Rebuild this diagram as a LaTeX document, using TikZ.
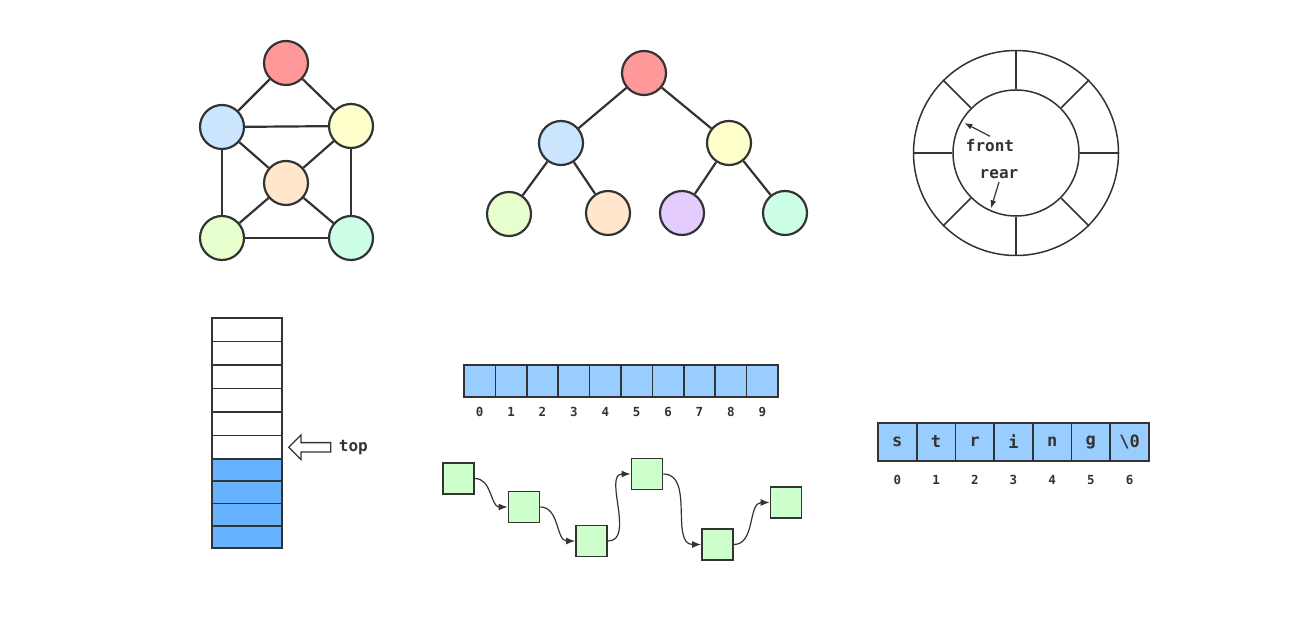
\documentclass[tikz,border=0pt]{standalone}
\usepackage{fontspec}
\setmonofont{DejaVu Sans Mono}
\usepackage{tikz}
\usetikzlibrary {shapes.arrows, arrows.meta}

\definecolor{ink}{HTML}{333333}
\definecolor{nred}{HTML}{FF9999}
\definecolor{nblue}{HTML}{CCE5FF}
\definecolor{nyellow}{HTML}{FFFFCC}
\definecolor{npeach}{HTML}{FFE6CC}
\definecolor{nlime}{HTML}{E6FFCC}
\definecolor{nmint}{HTML}{CCFFE6}
\definecolor{nlilac}{HTML}{E5CCFF}
\definecolor{stackblue}{HTML}{66B2FF}
\definecolor{arrblue}{HTML}{99CCFF}
\definecolor{listgreen}{HTML}{CCFFCC}

\begin{document}
\begin{tikzpicture}[x=1pt, y=-1pt,
        vertex/.style={circle, draw=ink, line width=2.2pt, minimum size=44pt, inner sep=0pt},
        link/.style={draw=ink, line width=2.2pt},
        ringline/.style={draw=ink, line width=1.5pt},
        label/.style={text=ink, font=\ttfamily\bfseries\fontsize{16}{16}\selectfont},
        idx/.style={text=ink, font=\ttfamily\bfseries\fontsize{12.5}{12.5}\selectfont},
        cell/.style={rectangle, draw=ink, line width=1.7pt, inner sep=0pt, minimum width=31.4pt, minimum height=32pt, fill=arrblue},
        strcell/.style={cell, minimum width=38.7pt, minimum height=38pt, text=ink, font=\ttfamily\bfseries\fontsize{17}{17}\selectfont},
        stackcell/.style={rectangle, draw=ink, line width=1.7pt, inner sep=0pt, minimum width=70pt},
        listnode/.style={rectangle, draw=ink, line width=1.8pt, inner sep=0pt, minimum size=31pt, fill=listgreen},
        chain/.style={draw=ink, line width=1.2pt, -{Latex[length=9pt,width=7pt]}}]
        \useasboundingbox (0,0) rectangle (1311,620);

        \node[vertex, fill=nred] (g1) at (286,63) {};
        \node[vertex, fill=nblue] (g2) at (222,127) {};
        \node[vertex, fill=nyellow] (g3) at (351,126) {};
        \node[vertex, fill=npeach] (g4) at (286,183) {};
        \node[vertex, fill=nlime] (g5) at (222,238) {};
        \node[vertex, fill=nmint] (g6) at (351,238) {};
        \draw[link] (g1) -- (g2);
        \draw[link] (g1) -- (g3);
        \draw[link] (g2) -- (g3);
        \draw[link] (g2) -- (g4);
        \draw[link] (g3) -- (g4);
        \draw[link] (g2) -- (g5);
        \draw[link] (g3) -- (g6);
        \draw[link] (g4) -- (g5);
        \draw[link] (g4) -- (g6);
        \draw[link] (g5) -- (g6);

        \node[vertex, fill=nred] (root) at (644,73) {};
        \node[vertex, fill=nblue] (left) at (561,143) {};
        \node[vertex, fill=nyellow] (right) at (729,143) {};
        \node[vertex, fill=nlime] (leaf1) at (509,214) {};
        \node[vertex, fill=npeach] (leaf2) at (608,213) {};
        \node[vertex, fill=nlilac] (leaf3) at (682,213) {};
        \node[vertex, fill=nmint] (leaf4) at (785,213) {};
        \draw[link] (root) -- (left);
        \draw[link] (root) -- (right);
        \draw[link] (left) -- (leaf1);
        \draw[link] (left) -- (leaf2);
        \draw[link] (right) -- (leaf3);
        \draw[link] (right) -- (leaf4);

        \node[circle, ringline, minimum size=205pt, inner sep=0pt] (outer) at (1016,153) {};
        \node[circle, ringline, minimum size=126pt, inner sep=0pt] (inner) at (1016,153) {};
        \foreach \a in {0,45,...,315}
            \draw[ringline] (inner.\a) -- (outer.\a);
        \node[label] (front) at (990,146) {front};
        \node[label] (rear) at (999,174) {rear};
        \draw[ink, line width=1.2pt, -{Latex[length=8pt,width=6pt]}, shorten >=4pt] (front.north) -- (inner.150);
        \draw[ink, line width=1.2pt, -{Latex[length=8pt,width=6pt]}, shorten >=3pt] (rear.south) -- (inner.246);

        \foreach \i/\y in {1/329.75, 2/353.25, 3/376.75, 4/400.25, 5/423.75, 6/447.25}
            \node[stackcell, minimum height=23.5pt, fill=white] (s\i) at (247,\y) {};
        \foreach \i/\y in {7/470.125, 8/492.375, 9/514.625, 10/536.875}
            \node[stackcell, minimum height=22.25pt, fill=stackblue] (s\i) at (247,\y) {};
        \node[single arrow, draw=ink, line width=1.3pt, fill=white, shape border rotate=180,
        inner sep=4pt, minimum height=42pt, minimum width=23pt, single arrow head extend=7.5pt,
        anchor=tip] (toparrow) at ([xshift=5pt]s6.east) {};
        \node[label, anchor=west] (top) at ([xshift=4pt]toparrow.tail) {top};

        \foreach \i in {0,...,9} {
            \node[cell] (a\i) at ({479.7+31.4*\i},381) {};
            \node[idx] (ai\i) at ({479.7+31.4*\i},412) {\i};
        }

        \foreach \i/\ch in {0/s, 1/t, 2/r, 3/i, 4/n, 5/g, 6/{\textbackslash0}} {
            \node[strcell] (c\i) at ({897.35+38.7*\i},442) {\ch};
            \node[idx] (ci\i) at ({897.35+38.7*\i},480) {\i};
        }

        \node[listnode] (l1) at (458.5,478.5) {};
        \node[listnode] (l2) at (524,507) {};
        \node[listnode] (l3) at (591.5,541) {};
        \node[listnode] (l4) at (647,474) {};
        \node[listnode] (l5) at (717.5,544.5) {};
        \node[listnode] (l6) at (786,502.5) {};
        \draw[chain] (l1.east) to[out=0, in=180] (l2.west);
        \draw[chain] (l2.east) to[out=0, in=180] (l3.west);
        \draw[chain] (l3.east) to[out=0, in=180] (l4.west);
        \draw[chain] (l4.east) to[out=0, in=180] (l5.west);
        \draw[chain] (l5.east) to[out=0, in=180] (l6.west);
    \end{tikzpicture}
\end{document}
